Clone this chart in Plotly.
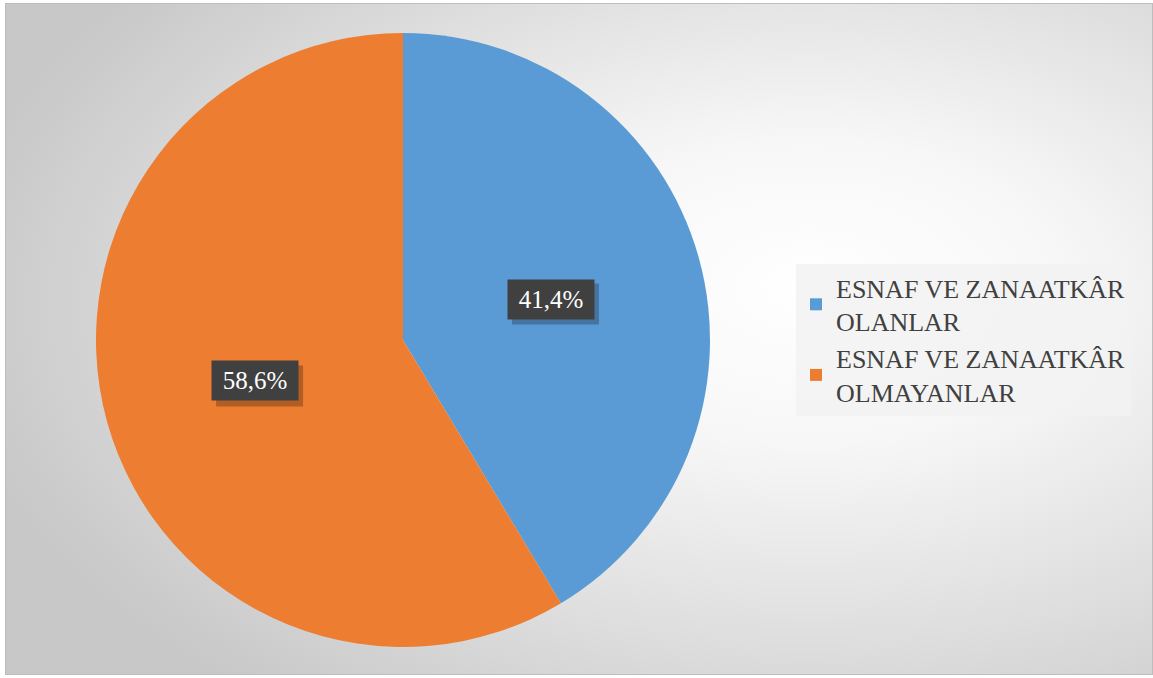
import math
import base64
import plotly.graph_objects as go

# ---- data ----
labels = ["ESNAF VE ZANAATKÂR<br>OLANLAR", "ESNAF VE ZANAATKÂR<br>OLMAYANLAR"]
values = [41.4, 58.6]
value_text = ["41,4%", "58,6%"]
colors = ["#5B9BD5", "#ED7D31"]

W, H = 1153, 678
cx, cy, R = 403, 340, 307  # pie centre / radius in pixels

dom_x = [(cx - R) / W, (cx + R) / W]
dom_y = [(H - cy - R) / H, (H - cy + R) / H]

fig = go.Figure()
fig.add_trace(go.Pie(
    labels=labels, values=values, sort=False, direction="clockwise", rotation=0,
    marker=dict(colors=colors, line=dict(width=0)),
    textinfo="none", hoverinfo="label+percent",
    domain=dict(x=dom_x, y=dom_y),
))

# background radial gradient
svg = f'''<svg xmlns="http://www.w3.org/2000/svg" width="1148" height="672" viewBox="0 0 1148 672" preserveAspectRatio="none">
<defs><radialGradient id="g" cx="0.70" cy="0.45" r="0.75" fx="0.70" fy="0.42">
<stop offset="0" stop-color="#ffffff"/><stop offset="0.3" stop-color="#f7f7f7"/>
<stop offset="0.68" stop-color="#dedede"/><stop offset="1" stop-color="#c8c8c8"/></radialGradient></defs>
<rect x="0" y="0" width="1148" height="672" fill="url(#g)"/>
<rect x="0.5" y="0.5" width="1147" height="671" fill="none" stroke="#bdbdbd" stroke-width="1"/></svg>'''
src = "data:image/svg+xml;base64," + base64.b64encode(svg.encode()).decode()

# label annotations at slice mid-angles
total = sum(values)
annotations = []
shapes = []
start = 0.0
d = 0.5 * R
bw, bh = 86, 39
for v, t in zip(values, value_text):
    mid = (start + v / 2) / total * 2 * math.pi
    start += v
    px = cx + d * math.sin(mid)
    py = cy - d * math.cos(mid)
    xp, yp = px / W, (H - py) / H
    shapes.append(dict(type="rect", xref="paper", yref="paper",
                       xsizemode="pixel", ysizemode="pixel",
                       xanchor=xp, yanchor=yp,
                       x0=-bw / 2 + 4, x1=bw / 2 + 5, y0=-bh / 2 - 6, y1=bh / 2 - 4,
                       fillcolor="rgba(0,0,0,0.25)", line=dict(width=0), layer="above"))
    annotations.append(dict(x=xp, y=yp, xref="paper", yref="paper", showarrow=False,
                            xanchor="center", yanchor="middle",
                            text=t, width=bw - 4, height=bh - 4, borderpad=2,
                            bgcolor="#404040",
                            font=dict(family="Liberation Serif", size=25, color="#ffffff")))

fig.update_layout(
    width=W, height=H,
    margin=dict(l=0, r=0, t=0, b=0),
    paper_bgcolor="#ffffff", plot_bgcolor="rgba(0,0,0,0)",
    images=[dict(source=src, xref="paper", yref="paper", x=5 / W, y=1 - 3 / H,
                 sizex=1148 / W, sizey=672 / H, sizing="stretch",
                 xanchor="left", yanchor="top", layer="below")],
    annotations=annotations,
    shapes=shapes,
    showlegend=True,
    legend=dict(x=796 / W, y=1 - 264 / H, xanchor="left", yanchor="top",
                bgcolor="rgba(242,242,242,0.85)",
                font=dict(family="Liberation Serif", size=26, color="#404040"),
                itemwidth=30, tracegroupgap=0),
)

fig.write_html("out.html", config={"displayModeBar": False},
               post_script="document.body.style.margin='0';document.body.style.overflow='hidden';")
